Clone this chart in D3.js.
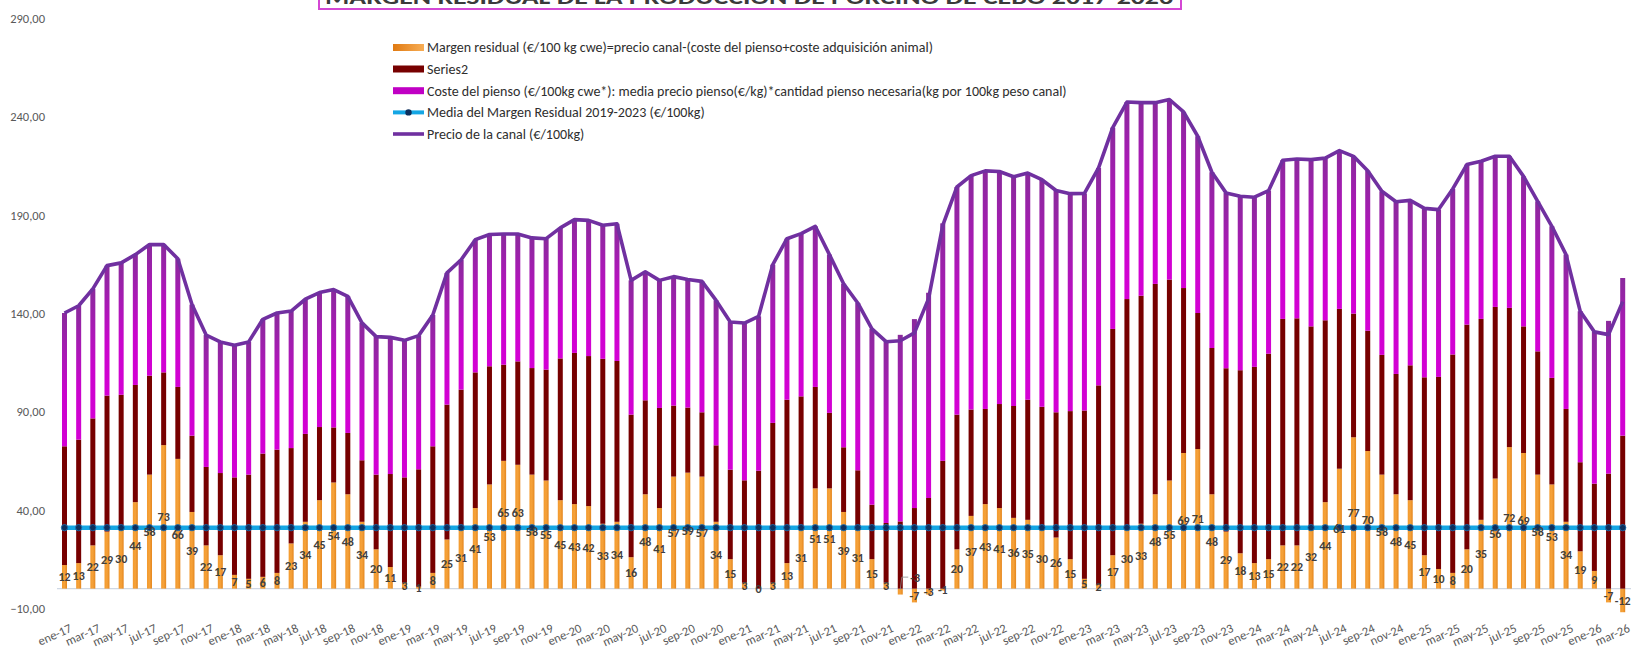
<!DOCTYPE html>
<html><head><meta charset="utf-8">
<script src="https://cdn.jsdelivr.net/npm/d3@7"></script>
<style>
html,body{margin:0;padding:0;background:#fff;}
svg{display:block;font-family:Carlito,Calibri,Lato,"Open Sans",sans-serif;}
</style></head>
<body>
<svg id="chart" width="1631" height="652"></svg>
<script>
// ---------------- DATA ----------------
const months = [
"ene-17","feb-17","mar-17","abr-17","may-17","jun-17","jul-17","ago-17","sep-17","oct-17","nov-17","dic-17",
"ene-18","feb-18","mar-18","abr-18","may-18","jun-18","jul-18","ago-18","sep-18","oct-18","nov-18","dic-18",
"ene-19","feb-19","mar-19","abr-19","may-19","jun-19","jul-19","ago-19","sep-19","oct-19","nov-19","dic-19",
"ene-20","feb-20","mar-20","abr-20","may-20","jun-20","jul-20","ago-20","sep-20","oct-20","nov-20","dic-20",
"ene-21","feb-21","mar-21","abr-21","may-21","jun-21","jul-21","ago-21","sep-21","oct-21","nov-21","dic-21",
"ene-22","feb-22","mar-22","abr-22","may-22","jun-22","jul-22","ago-22","sep-22","oct-22","nov-22","dic-22",
"ene-23","feb-23","mar-23","abr-23","may-23","jun-23","jul-23","ago-23","sep-23","oct-23","nov-23","dic-23",
"ene-24","feb-24","mar-24","abr-24","may-24","jun-24","jul-24","ago-24","sep-24","oct-24","nov-24","dic-24",
"ene-25","feb-25","mar-25","abr-25","may-25","jun-25","jul-25","ago-25","sep-25","oct-25","nov-25","dic-25",
"ene-26","feb-26","mar-26"];

// Margen residual (orange)
const margin = [
12,13,22,29,30,44,58,73,66,39,22,17,
7,5,6,8,23,34,45,54,48,34,20,11,
3,1,8,25,31,41,53,65,63,58,55,45,
43,42,33,34,16,48,41,57,59,57,34,15,
3,0,3,13,31,51,51,39,31,15,3,-3,
-7,-3,-1,20,37,43,41,36,35,30,26,15,
5,2,17,30,33,48,55,69,71,48,29,18,
13,15,22,22,32,44,61,77,70,58,48,45,
17,10,8,20,35,56,72,69,58,53,34,19,
9,-7,-12];

// Series2 (dark red) – coste adquisición animal
const series2 = [
60.4,62.8,64.6,69.2,68.6,59.6,50.3,37.0,36.6,38.8,39.9,41.8,
49.6,53.0,62.7,62.7,48.5,44.7,37.2,28.0,31.2,31.3,38.0,47.3,
53.6,59.7,64.4,68.6,70.2,69.0,60.1,48.9,52.6,54.2,56.4,72.1,
76.9,76.3,83.9,81.8,72.5,47.8,50.9,36.1,33.1,32.7,38.9,45.5,
52.1,60.0,81.3,83.1,66.8,51.6,38.4,32.9,29.2,27.7,30.4,34.2,
41.0,46.1,65.0,68.5,54.1,48.4,52.9,56.9,61.1,62.5,63.7,75.3,
85.6,101.4,115.1,117.3,116.0,107.0,102.2,83.9,69.2,74.4,83.1,93.1,
99.8,104.5,115.2,115.5,101.4,92.5,81.3,62.9,61.2,60.9,61.2,68.6,
90.5,97.7,111.1,114.3,102.2,87.3,70.8,64.4,62.7,54.2,57.4,45.3,
44.4,58.5,77.8];

// Coste del pienso (magenta)
const feedCost = [
67.8,68.1,65.9,66.1,67.1,66.3,66.7,65.0,65.2,66.7,67.1,66.7,
67.2,67.5,68.3,69.5,69.7,68.5,68.4,70.1,69.5,69.9,70.2,69.5,
69.7,68.0,66.8,67.0,66.1,67.5,67.0,66.5,64.8,66.2,66.6,66.4,
67.8,69.0,67.9,69.8,68.3,65.4,64.9,65.6,65.1,66.6,73.7,75.1,
80.0,78.5,80.5,81.9,82.8,81.7,80.5,83.2,85.1,89.4,92.2,94.9,
96.1,104.4,120.8,115.8,119.0,121.1,118.3,116.6,115.3,115.5,112.8,110.6,
110.4,110.6,102.4,100.2,98.2,92.2,91.6,89.6,89.9,89.4,89.2,88.5,
86.3,82.9,80.7,81.0,84.8,82.5,80.5,80.0,81.4,83.2,87.6,83.9,
85.9,85.1,84.2,81.4,80.2,76.6,77.1,76.3,76.3,77.1,78.5,76.8,
77.2,77.7,80.2];

// Precio de la canal (purple line)
const price = [
140.2,143.9,152.5,164.3,165.7,169.9,175.0,175.0,167.8,144.5,129.0,125.5,
123.8,125.5,137.0,140.2,141.2,147.2,150.6,152.1,148.7,135.2,128.2,127.8,
126.3,128.7,139.2,160.6,167.3,177.5,180.1,180.4,180.4,178.4,178.0,183.5,
187.7,187.3,184.8,185.6,156.8,161.2,156.8,158.7,157.2,156.3,146.6,135.6,
135.1,138.5,164.8,178.0,180.6,184.3,169.9,155.1,145.3,132.1,125.6,126.1,
130.1,147.5,184.8,204.3,210.1,212.5,212.2,209.5,211.4,208.0,202.5,200.9,
201.0,214.0,234.5,247.5,247.2,247.2,248.8,242.5,230.1,211.8,201.3,199.6,
199.1,202.4,217.9,218.5,218.2,219.0,222.8,219.9,212.6,202.1,196.8,197.5,
193.4,192.8,203.3,215.7,217.4,219.9,219.9,209.7,197.0,184.3,169.9,141.1,
130.6,129.2,146.0];

const meanPeriod = ["ene-19","dic-23"]; // Media del Margen Residual 2019-2023
const yTicks = [-10,40,90,140,190,240,290];

const titleText = "MARGEN RESIDUAL DE LA PRODUCCIÓN DE PORCINO DE CEBO 2017-2026";
const legendLabels = [
 "Margen residual (€/100 kg cwe)=precio canal-(coste del pienso+coste adquisición animal)",
 "Series2",
 "Coste del pienso (€/100kg cwe*): media precio pienso(€/kg)*cantidad pienso necesaria(kg por 100kg peso canal)",
 "Media del Margen Residual 2019-2023 (€/100kg)",
 "Precio de la canal (€/100kg)"];

// ---------------- CHART ----------------
const svg = d3.select("#chart");
const W = 1631, H = 652;
svg.append("rect").attr("width", W).attr("height", H).attr("fill", "#fff");

const x = d3.scalePoint().domain(months).range([64.5, 1622.7]);
const y = d3.scaleLinear().domain([-10, 290]).range([608.3, 18.5]);
const barW = 5;

const defs = svg.append("defs");
const gm = defs.append("linearGradient").attr("id","gMag").attr("x1",0).attr("y1",0).attr("x2",0).attr("y2",1);
[[0,"#8a2a9c"],[0.3,"#a81ab4"],[0.6,"#c905cc"],[1,"#d400d4"]].forEach(s=>gm.append("stop").attr("offset",s[0]).attr("stop-color",s[1]));
const go = defs.append("linearGradient").attr("id","gOr").attr("x1",0).attr("y1",0).attr("x2",1).attr("y2",0);
[[0,"#f39a2e"],[0.5,"#f5a23a"],[1,"#e4861e"]].forEach(s=>go.append("stop").attr("offset",s[0]).attr("stop-color",s[1]));
const gol = defs.append("linearGradient").attr("id","gOrL").attr("x1",0).attr("y1",0).attr("x2",1).attr("y2",0);
[[0,"#e07a12"],[1,"#f7ad55"]].forEach(s=>gol.append("stop").attr("offset",s[0]).attr("stop-color",s[1]));

// title (cut off at top like the reference)
svg.append("rect").attr("x",319).attr("y",-40).attr("width",862).attr("height",49)
  .attr("fill","#fff").attr("stroke","#d447d4").attr("stroke-width",2);
svg.append("text").attr("x",325).attr("y",4).attr("textLength",848).attr("lengthAdjust","spacingAndGlyphs")
  .attr("font-size",20).attr("font-weight","bold").attr("fill","#3a3a3a").text(titleText);

// y axis
const yAxis = svg.append("g").attr("transform","translate(57,0)")
  .call(d3.axisLeft(y).tickValues(yTicks).tickSize(0).tickPadding(12)
    .tickFormat(d => d3.format(".2f")(d).replace(".", ",")));
yAxis.select(".domain").remove();
yAxis.selectAll("text").attr("font-size",12.5).attr("fill","#595959").style("font-family","Carlito,Calibri,Lato,sans-serif");

// x axis
const xAxis = svg.append("g").attr("transform","translate(0,623)")
  .call(d3.axisBottom(x).tickValues(months.filter((d,i)=>i%2===0)).tickSize(0));
xAxis.select(".domain").remove();
xAxis.selectAll("text").attr("y",0).attr("x",0).attr("dy","0.72em")
  .attr("text-anchor","end").attr("transform","translate(4,0) rotate(-24)")
  .attr("font-size",12.5).attr("fill","#595959").style("font-family","Carlito,Calibri,Lato,sans-serif");

// zero line
svg.append("line").attr("x1",57).attr("x2",W).attr("y1",y(0)).attr("y2",y(0))
  .attr("stroke","#cfd8e4").attr("stroke-width",1.2);

// stacked bars
const rows = months.map((m,i)=>({month:m, margin:margin[i], series2:series2[i], feed:feedCost[i]}));
const stack = d3.stack().keys(["margin","series2","feed"]).offset(d3.stackOffsetDiverging);
const series = stack(rows);
const fills = {margin:"url(#gOr)", series2:"#770000", feed:"url(#gMag)"};
svg.append("g").selectAll("g").data(series).join("g")
  .attr("fill", d=>fills[d.key])
  .selectAll("rect").data(d=>d).join("rect")
  .attr("x", d=>x(d.data.month)-barW/2)
  .attr("width", barW)
  .attr("y", d=>y(Math.max(d[0],d[1])))
  .attr("height", d=>Math.abs(y(d[0])-y(d[1])));

// mean line
const meanVal = d3.mean(margin.slice(months.indexOf(meanPeriod[0]), months.indexOf(meanPeriod[1])+1));
const meanG = svg.append("g");
meanG.append("path").datum(months)
  .attr("d", d3.line().x(d=>x(d)).y(()=>y(meanVal)))
  .attr("fill","none").attr("stroke","#14a6e4").attr("stroke-width",4.5);
meanG.selectAll("circle").data(months).join("circle")
  .attr("cx", d=>x(d)).attr("cy", y(meanVal)).attr("r",3.2)
  .attr("fill","#0e2f5c").attr("stroke","#1d74b8").attr("stroke-width",0.8);

// price line
svg.append("path").datum(months)
  .attr("d", d3.line().x(d=>x(d)).y((d,i)=>y(price[i])))
  .attr("fill","none").attr("stroke","#7030a0").attr("stroke-width",3.6)
  .attr("stroke-linejoin","round");

// data labels (centre of orange segment; a few nudged as in the reference)
const nudge = {8:11, 31:-12, 32:-14};
const lbl = svg.append("g").attr("font-size",12).attr("font-weight","bold").attr("fill","#3f3f3f")
  .attr("text-anchor","middle");
margin.forEach((m,i)=>{
  if (i===59) return;
  lbl.append("text").attr("x", x(months[i])).attr("y", y(m/2) + (nudge[i]||0)).attr("dy","0.35em").text(m);
});
// label with leader line (dic-21)
{
  const bx = x(months[59]);
  svg.append("path").attr("d",`M${bx},${y(0)+1}L${bx+1.5},${y(0)-11.5}L${bx+8},${y(0)-11.5}`)
    .attr("fill","none").attr("stroke","#8c8c8c").attr("stroke-width",0.8);
  lbl.append("text").attr("x", bx+10).attr("y", y(0)-11).attr("dy","0.35em")
    .attr("text-anchor","start").text(margin[59]);
}

// legend
const leg = svg.append("g");
const rowsY = [47.5, 69, 90.7, 112.4, 134];
const lx = 393, lw = 31;
leg.append("rect").attr("x",lx).attr("y",rowsY[0]-3.5).attr("width",lw).attr("height",7).attr("fill","url(#gOrL)");
leg.append("rect").attr("x",lx).attr("y",rowsY[1]-3.5).attr("width",lw).attr("height",7).attr("fill","#770000");
leg.append("rect").attr("x",lx).attr("y",rowsY[2]-3.5).attr("width",lw).attr("height",7).attr("fill","#c000c4");
leg.append("line").attr("x1",lx).attr("x2",lx+lw).attr("y1",rowsY[3]).attr("y2",rowsY[3]).attr("stroke","#14a6e4").attr("stroke-width",4);
leg.append("circle").attr("cx",lx+lw/2).attr("cy",rowsY[3]).attr("r",3.2).attr("fill","#0e2f5c");
leg.append("line").attr("x1",lx).attr("x2",lx+lw).attr("y1",rowsY[4]).attr("y2",rowsY[4]).attr("stroke","#7030a0").attr("stroke-width",3.6);
legendLabels.forEach((t,i)=>{
  leg.append("text").attr("x",lx+lw+3).attr("y",rowsY[i]).attr("dy","0.35em")
    .attr("font-size",14).attr("fill","#2e2e2e").text(t);
});
</script>
</body></html>
